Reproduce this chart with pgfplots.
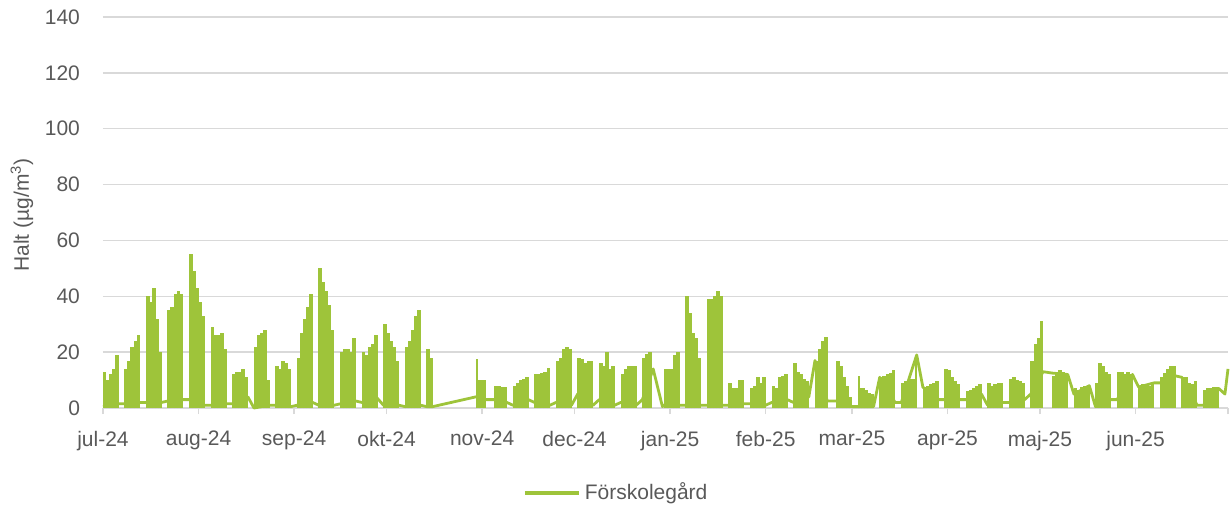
\documentclass[border=0pt]{standalone}
\usepackage{fontspec}
\setmainfont{Liberation Sans}
\usepackage{pgfplots}
\pgfplotsset{compat=1.18}
\usepackage{pgfplotstable}
\definecolor{lime}{RGB}{158,196,58}
\definecolor{txtgray}{RGB}{89,89,89}
\definecolor{gridgray}{RGB}{217,217,217}

% daily peak values (x = day since 1 Jul 2024 + 0.5)
\pgfplotstableread{
x y
0.5 13
1.5 10
2.5 12
3.5 14
4.5 19
7.5 14
8.5 17
9.5 22
10.5 24
11.5 26
14.5 40
15.5 38
16.5 43
17.5 32
18.5 20
21.5 35
22.5 36
23.5 41
24.5 42
25.5 41
28.5 55
29.5 49
30.5 43
31.5 38
32.5 33
35.5 29
36.5 26
37.5 26
38.5 27
39.5 21
42.5 12
43.5 13
44.5 13
45.5 14
46.5 11
49.5 22
50.5 26
51.5 27
52.5 28
53.5 10
56.5 15
57.5 14
58.5 17
59.5 16
60.5 14
63.5 18
64.5 27
65.5 32
66.5 36
67.5 41
70.5 50
71.5 45
72.5 42
73.5 37
74.5 28
77.5 20
78.5 21
79.5 21
80.5 20
81.5 25
84.5 20
85.5 19
86.5 22
87.5 23
88.5 26
91.5 30
92.5 27
93.5 24
94.5 22
95.5 17
98.5 22
99.5 24
100.5 28
101.5 33
102.5 35
105.5 21
106.5 18
121.5 10
122.5 10
123.5 10
127.5 8
128.5 8
129.5 7.5
130.5 7.5
133.5 8
134.5 9
135.5 10
136.5 10.5
137.5 11
140.5 12
141.5 12
142.5 12.5
143.5 13
144.5 14.5
147.5 17
148.5 18
149.5 21
150.5 22
151.5 21
154.5 18
155.5 17.5
156.5 16
157.5 17
158.5 17
161.5 16
162.5 15
163.5 20
164.5 14
165.5 15
168.5 12
169.5 14
170.5 15
171.5 15
172.5 15
175.5 18
176.5 19.5
177.5 20
182.5 14
183.5 14
184.5 14
185.5 19
186.5 20
189.5 40
190.5 34
191.5 27
192.5 25
193.5 18
196.5 39
197.5 39
198.5 40
199.5 42
200.5 40
203.5 9
204.5 7
205.5 7
206.5 10
207.5 10
210.5 7
211.5 8
212.5 11
213.5 9
214.5 11
217.5 8
218.5 7
219.5 11
220.5 11.5
221.5 12
224.5 16
225.5 13
226.5 12
227.5 10.5
228.5 9.5
231.5 17
232.5 21
233.5 24
234.5 25.5
238.5 17
239.5 15
240.5 11
241.5 8
242.5 4
245.5 7
246.5 7
247.5 6.5
248.5 5.5
249.5 5
252.5 11
253.5 11.5
254.5 12
255.5 12.5
256.5 13.5
259.5 9
260.5 9.5
261.5 10
262.5 10.5
263.5 10.5
266.5 7.5
267.5 8
268.5 8.5
269.5 9
270.5 9.5
273.5 14
274.5 13.5
275.5 11
276.5 9.5
277.5 8.5
280.5 6
281.5 6.5
282.5 7
283.5 8
284.5 8.5
287.5 9
288.5 8
289.5 8.5
290.5 9
291.5 9
294.5 10.5
295.5 11
296.5 10
297.5 9.5
298.5 9
301.5 17
302.5 23
303.5 25
304.5 31
308.5 11.5
309.5 12
310.5 13.5
311.5 13
312.5 12.5
315.5 7
316.5 6.5
317.5 7.5
318.5 8
319.5 8
322.5 9
323.5 16
324.5 15
325.5 13
326.5 12
329.5 13
330.5 13
331.5 12
332.5 13
333.5 12
336.5 8
337.5 8.5
338.5 8
339.5 8
340.5 9
343.5 11
344.5 12.5
345.5 14
346.5 15
347.5 15
350.5 11
351.5 11
352.5 9
353.5 8.5
354.5 9.5
357.5 6.5
358.5 7
359.5 7
360.5 7.5
361.5 7.5
}\combs

% short single spikes
\pgfplotstableread{
x y
121.3 17.4
245.2 11.5
263.7 19
}\spikes

% connecting (night / weekend) line
\pgfplotstableread{
x y
0 0.5
5 1.5
7 1.5
12 2
14 2
19 2
21 2.5
26 3
28 3
33 1
35 1
40 1.5
42 1.5
47 4
49 0
54 1
56 1
61 0.5
63 1
68 2
70 1
75 1
77 1.5
82 2.5
84 2
89 3.5
91 1
96 1
98 0.5
103 1
105 0.5
107 0.5
121 4
124 3
127 3
131 2
133 1
138 3
140 2
145 1
147 2
152 1
154 5
159 1
161 3
166 1
168 2
173 1
175 3
178.5 14
181.5 0.5
182 1
187 1
189 1
194 1
196 1
201 1
203 1
208 1.5
210 1.5
215 1
217 2
222 3
224 2
229 4
231 17
235 2.5
238 2.5
243 0.5
245 0.5
250 0.5
252 11
257 2
259 2
264 19
266 7.5
271 3
273 3
278 3
280 3
285 5
287 1
292 2
294 2
299 3
301 5
305 13
308 12.5
313 12
315 5
320 8
322 0.5
327 3
329 3
334 12
336 7.5
341 9
343 9
348 11.5
350 11
355 1
357 1
362 7
364 5
365 14
}\baseline

\begin{document}
\begin{tikzpicture}
\begin{axis}[
  at={(0pt,0pt)}, anchor=south west,
  scale only axis, width=562.5pt, height=195.5pt,
  xmin=0, xmax=365, ymin=0, ymax=140,
  clip=false,
  axis x line*=bottom, axis y line*=left,
  axis line style={-, gridgray, line width=0.75pt},
  y axis line style={draw=none},
  xtick={0,31,62,92,123,153,184,215,243,274,304,335,365},
  xticklabels={jul-24,aug-24,sep-24,okt-24,nov-24,dec-24,jan-25,feb-25,mar-25,apr-25,maj-25,jun-25,{}},
  ytick={0,20,...,140},
  tick align=outside, major tick length=3pt,
  xtick style={gridgray, line width=0.75pt},
  ytick style={draw=none},
  ymajorgrids, grid style={gridgray, line width=0.75pt},
  /pgf/number format/assume math mode=true,
  tick label style={font=\fontsize{10.5}{12}\selectfont, text=txtgray},
  yticklabel style={xshift=-5pt},
  xticklabel style={yshift=-5pt},
  ylabel={Halt (µg/m\textsuperscript{3})},
  ylabel style={at={(axis description cs:-0.072,0.494)}, anchor=center, font=\fontsize{10.5}{12}\selectfont, text=txtgray},
  legend style={at={(axis description cs:0.457,-0.217)}, anchor=center, draw=none, fill=none,
    font=\fontsize{10.5}{12}\selectfont, text=txtgray},
  legend image code/.code={\draw[#1, line width=2pt] (0pt,0pt) -- (27pt,0pt);},
]
\addplot[ycomb, draw=lime, line width=1.85pt, forget plot] table[x=x, y=y] {\combs};
\addplot[ycomb, draw=lime, line width=0.9pt, forget plot] table[x=x, y=y] {\spikes};
\addplot[draw=lime, line width=1.4pt, line join=round] table[x=x, y=y] {\baseline};
\addlegendentry{Förskolegård}
\end{axis}
\pgfresetboundingbox
\path[use as bounding box] (-51.5pt,-51.5pt) rectangle (564pt,204pt);
\end{tikzpicture}
\end{document}
